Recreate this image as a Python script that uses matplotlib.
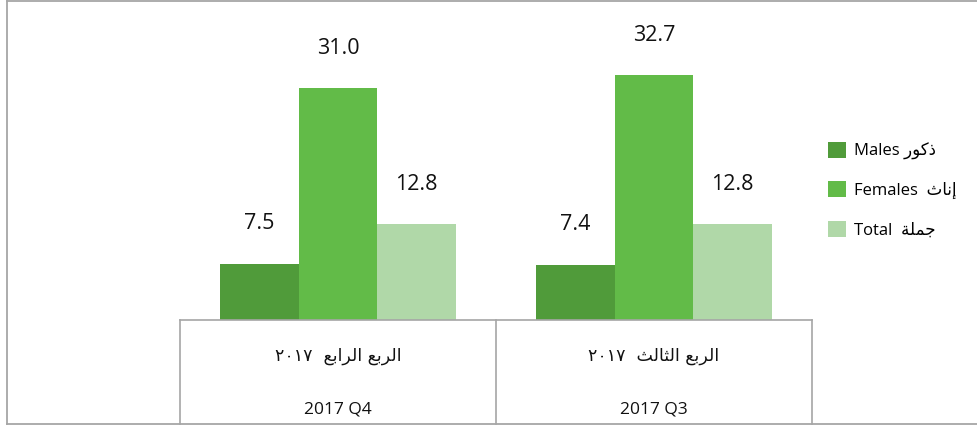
import matplotlib
matplotlib.use("Agg")
import matplotlib.pyplot as plt
import matplotlib.transforms as mtransforms
from matplotlib.lines import Line2D
from matplotlib.patches import Patch
import numpy as np

# data
quarters_en = ["2017 Q4", "2017 Q3"]
# Arabic labels, written in shaped presentation forms and in visual (left-to-right) order,
# because matplotlib does no Arabic shaping / bidi on its own
quarters_ar = [
    "\u0662\u0660\u0661\u0667  \uFECA\uFE91\uFE8D\uFEAE\uFEDF\uFE8D \uFECA\uFE91\uFEAE\uFEDF\uFE8D",  # الربع الرابع ٢٠١٧
    "\u0662\u0660\u0661\u0667  \uFE9A\uFEDF\uFE8E\uFE9C\uFEDF\uFE8D \uFECA\uFE91\uFEAE\uFEDF\uFE8D",  # الربع الثالث ٢٠١٧
]
males = [7.5, 7.4]
females = [31.0, 32.7]
total = [12.8, 12.8]

series_names = [
    "Males \uFEAD\uFEEE\uFEDB\uFEAB",        # ذكور
    "Females  \uFE99\uFE8E\uFEE7\uFE87",     # إناث
    "Total  \uFE94\uFEE0\uFEE4\uFE9F",       # جملة
]
colors = ["#509B3A", "#62BB48", "#B0D8A8"]

FONT = ["Open Sans", "DejaVu Sans"]
plt.rcParams["font.family"] = FONT

W, H = 977, 428
fig = plt.figure(figsize=(W / 100, H / 100), dpi=100)

# axes box in pixels: x 180..812, baseline y=320, top y=10
ax = fig.add_axes([180 / W, (H - 320) / H, (812 - 180) / W, 310 / H])
ax.set_xlim(-0.5, 1.5)
ax.set_ylim(0, 310 / 7.48)

x = np.arange(len(quarters_en))
bw = 0.248
for i, (vals, c) in enumerate(zip([males, females, total], colors)):
    bars = ax.bar(x + (i - 1) * bw, vals, width=bw, color=c, zorder=2)
    for b, v in zip(bars, vals):
        ax.annotate(f"{v:.1f}", (b.get_x() + b.get_width() / 2, v),
                    xytext=(0, 40), textcoords="offset pixels",
                    ha="center", va="center", fontsize=15.5, color="#111111")

for s in ["top", "right", "left"]:
    ax.spines[s].set_visible(False)
ax.spines["bottom"].set_color("#A6A6A6")
ax.spines["bottom"].set_linewidth(1.2)
ax.set_xticks([])
ax.set_yticks([])

# category table below the bars
trans = mtransforms.blended_transform_factory(ax.transData, fig.transFigure)
for xv in [-0.5, 0.5, 1.5]:
    fig.add_artist(Line2D([xv, xv], [(H - 320) / H, (H - 424) / H], transform=trans,
                          color="#A6A6A6", lw=1.2))
for xi, ar, en in zip(x, quarters_ar, quarters_en):
    ax.text(xi, (H - 356) / H, ar, transform=trans, ha="center", va="center",
            fontsize=12.5, color="#111111", family=["DejaVu Sans"])
    ax.text(xi, (H - 410) / H, en, transform=trans, ha="center", va="center",
            fontsize=12.5, color="#111111")

# outer frame of the chart
for xs, ys in [([6.5, 6.5], [1, 424]), ([6.5, W], [1, 1]), ([6.5, W], [424, 424])]:
    fig.add_artist(Line2D([v / W for v in xs], [(H - v) / H for v in ys],
                          transform=fig.transFigure, color="#A6A6A6", lw=1.3))

handles = [Patch(facecolor=c, edgecolor="none") for c in colors]
fig.legend(handles, series_names, loc="center left",
           bbox_to_anchor=(813 / W, (H - 190) / H), frameon=False,
           fontsize=12, handlelength=1.1, handleheight=1.1,
           handletextpad=0.45, labelspacing=1.3)

fig.savefig("out.png", dpi=100)
